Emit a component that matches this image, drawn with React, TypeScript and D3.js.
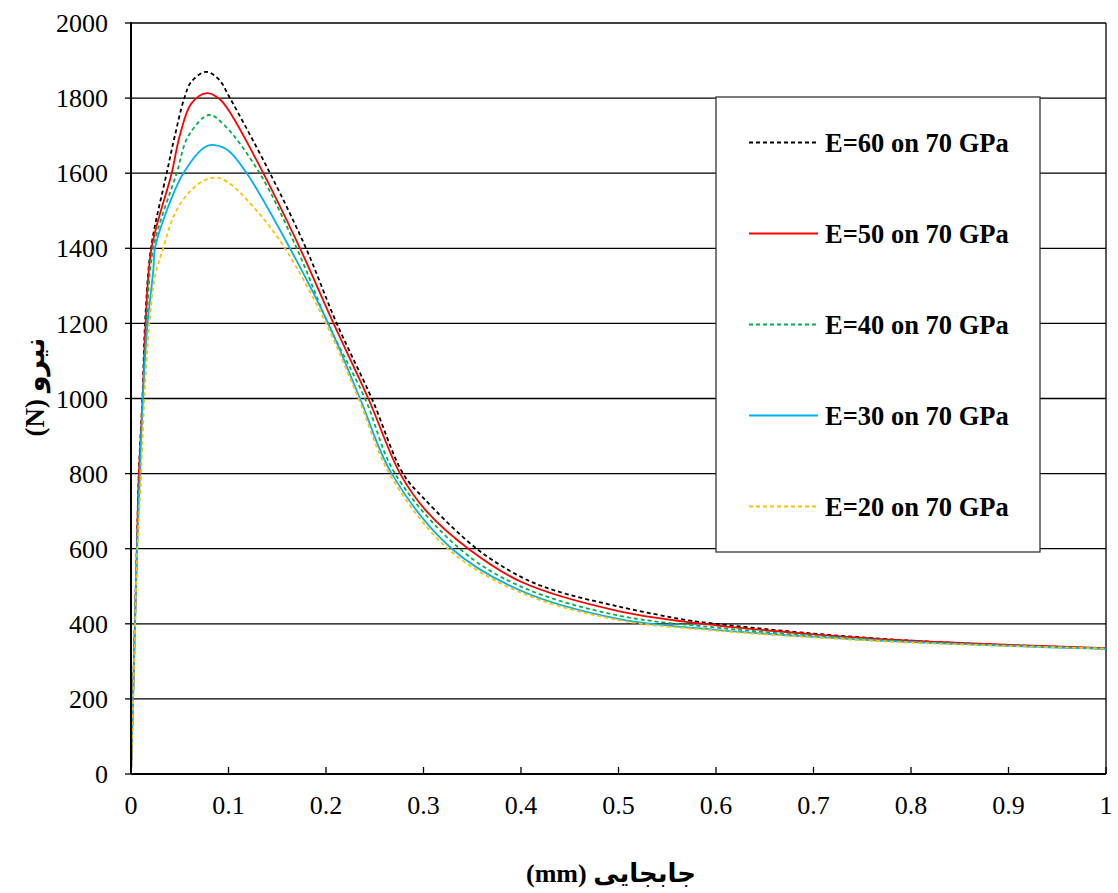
import React from "react";
import * as d3 from "d3";

const xTicks = [0, 0.1, 0.2, 0.3, 0.4, 0.5, 0.6, 0.7, 0.8, 0.9, 1];
const yTicks = [0, 200, 400, 600, 800, 1000, 1200, 1400, 1600, 1800, 2000];

const e60X = [0, 0.002, 0.004, 0.006, 0.008, 0.012, 0.0144, 0.0205, 0.0366, 0.045, 0.0547, 0.062, 0.077, 0.09, 0.1015, 0.1426, 0.1795, 0.211, 0.247, 0.279, 0.3, 0.3545, 0.4, 0.433, 0.5, 0.57, 0.6, 0.7, 0.8, 0.9, 1.0];
const e60Y = [0, 200, 400, 600, 800, 1020, 1200, 1400, 1600, 1700, 1800, 1844, 1870, 1850, 1800, 1600, 1400, 1200, 1000, 800, 735, 600, 525, 490, 446, 410, 400, 374, 355, 343, 334];

const e50X = [0, 0.002, 0.004, 0.006, 0.008, 0.012, 0.015, 0.021, 0.0417, 0.05, 0.062, 0.078, 0.091, 0.1, 0.1357, 0.1733, 0.2077, 0.2434, 0.276, 0.303, 0.346, 0.4, 0.5, 0.6, 0.7, 0.8, 0.9, 1.0];
const e50Y = [0, 200, 400, 600, 790, 1000, 1200, 1400, 1600, 1700, 1786, 1813, 1797, 1768, 1600, 1400, 1200, 1000, 800, 700, 600, 512, 434, 396, 372, 355, 344, 335];

const e40X = [0, 0.002, 0.004, 0.006, 0.009, 0.0125, 0.016, 0.0229, 0.0468, 0.059, 0.08, 0.095, 0.132, 0.17, 0.202, 0.24, 0.2708, 0.337, 0.4, 0.5, 0.6, 0.7, 0.8, 0.9, 1.0];
const e40Y = [0, 200, 400, 590, 800, 1000, 1200, 1400, 1600, 1700, 1755, 1730, 1600, 1400, 1200, 1000, 800, 600, 499, 422, 390, 368, 352, 342, 334];

const e30X = [0, 0.002, 0.004, 0.006, 0.009, 0.012, 0.017, 0.0229, 0.0246, 0.0366, 0.0537, 0.076, 0.086, 0.1, 0.1187, 0.163, 0.2023, 0.2349, 0.2674, 0.329, 0.4, 0.5, 0.6, 0.7, 0.8, 0.9, 1.0];
const e30Y = [0, 190, 380, 580, 790, 1000, 1200, 1342, 1400, 1500, 1600, 1670, 1675, 1660, 1600, 1400, 1200, 1000, 800, 600, 488, 413, 384, 365, 351, 341, 333];

const e20X = [0, 0.002, 0.004, 0.006, 0.0103, 0.0137, 0.0188, 0.025, 0.033, 0.045, 0.06, 0.076, 0.0885, 0.1, 0.1254, 0.158, 0.2, 0.2333, 0.265, 0.325, 0.4, 0.5, 0.6, 0.7, 0.8, 0.9, 1.0];
const e20Y = [0, 180, 370, 560, 800, 1000, 1200, 1330, 1400, 1493, 1550, 1582, 1588, 1575, 1511, 1400, 1200, 1000, 800, 600, 483, 410, 382, 364, 350, 341, 334];

const seriesNames = ["E=60 on 70 GPa", "E=50 on 70 GPa", "E=40 on 70 GPa", "E=30 on 70 GPa", "E=20 on 70 GPa"];
const seriesColors = ["#000000", "#FF0000", "#00B050", "#00B0F0", "#FFC000"];
const seriesDashed = [true, false, true, false, true];

const xTitle = "(mm) جابجایی";
const yTitle = "(N) نیرو";

export default function App() {
  const W = 1118, H = 893;
  const left = 131, right = 1106, top = 23, bottom = 774;
  const x = d3.scaleLinear().domain([0, 1]).range([left, right]);
  const y = d3.scaleLinear().domain([0, 2000]).range([bottom, top]);
  const xsAll = [e60X, e50X, e40X, e30X, e20X];
  const ysAll = [e60Y, e50Y, e40Y, e30Y, e20Y];
  const line = d3
    .line<[number, number]>()
    .x((d) => x(d[0]))
    .y((d) => y(d[1]))
    .curve(d3.curveCatmullRom.alpha(0.5));
  const serif = "'Liberation Serif', 'Times New Roman', serif";
  const arabicFont = "'Liberation Serif', 'DejaVu Sans', 'Noto Sans', serif";

  const legX = 716, legY = 97, legW = 324, legH = 455;
  const rowY = [142.5, 233.5, 324.5, 415.5, 506.5];

  return (
    <svg width={W} height={H} style={{ position: "absolute", left: 0, top: 0, background: "#fff" }}>
      <rect x={0} y={0} width={W} height={H} fill="#fff" />
      {yTicks.filter((t) => t > 0).map((t) => (
        <line key={"g" + t} x1={left} x2={right} y1={y(t)} y2={y(t)} stroke="#000" strokeWidth={1.3} />
      ))}
      <line x1={right} x2={right} y1={top} y2={bottom} stroke="#000" strokeWidth={1.3} />
      {yTicks.map((t) => (
        <g key={"yt" + t}>
          <line x1={left - 6} x2={left} y1={y(t)} y2={y(t)} stroke="#000" strokeWidth={1.3} />
          <text x={108} y={y(t)} dy="0.35em" textAnchor="end" fontFamily={serif} fontSize={26} fill="#000">
            {t}
          </text>
        </g>
      ))}
      {xTicks.map((t) => (
        <g key={"xt" + t}>
          <line x1={x(t)} x2={x(t)} y1={bottom} y2={bottom - 7} stroke="#000" strokeWidth={1.3} />
          <text x={x(t)} y={814} textAnchor="middle" fontFamily={serif} fontSize={26} fill="#000">
            {d3.format("~g")(t)}
          </text>
        </g>
      ))}
      {xsAll.map((xs, i) => {
        const pts: [number, number][] = xs.map((v, j) => [v, ysAll[i][j]]);
        return (
          <path
            key={"s" + i}
            d={line(pts) || ""}
            fill="none"
            stroke={seriesColors[i]}
            strokeWidth={1.8}
            strokeDasharray={seriesDashed[i] ? "4,3" : undefined}
          />
        );
      })}
      <line x1={left} x2={left} y1={top - 1} y2={bottom} stroke="#000" strokeWidth={2} />
      <line x1={left} x2={right} y1={bottom} y2={bottom} stroke="#000" strokeWidth={2} />
      <rect x={legX} y={legY} width={legW} height={legH} fill="#fff" stroke="#333" strokeWidth={1.3} />
      {seriesNames.map((n, i) => (
        <g key={"l" + i}>
          <line
            x1={749}
            x2={818}
            y1={rowY[i]}
            y2={rowY[i]}
            stroke={seriesColors[i]}
            strokeWidth={1.8}
            strokeDasharray={seriesDashed[i] ? "4,3" : undefined}
          />
          <text x={825} y={rowY[i]} dy="0.35em" fontFamily={serif} fontWeight="bold" fontSize={26.5} fill="#000">
            {n}
          </text>
        </g>
      ))}
      <text x={611} y={882} textAnchor="middle" fontFamily={arabicFont} fontWeight="bold" fontSize={26} fill="#000">
        {xTitle}
      </text>
      <text
        transform={`translate(44, 387) rotate(-90)`}
        textAnchor="middle"
        fontFamily={arabicFont}
        fontWeight="bold"
        fontSize={27}
        fill="#000"
      >
        {yTitle}
      </text>
    </svg>
  );
}
